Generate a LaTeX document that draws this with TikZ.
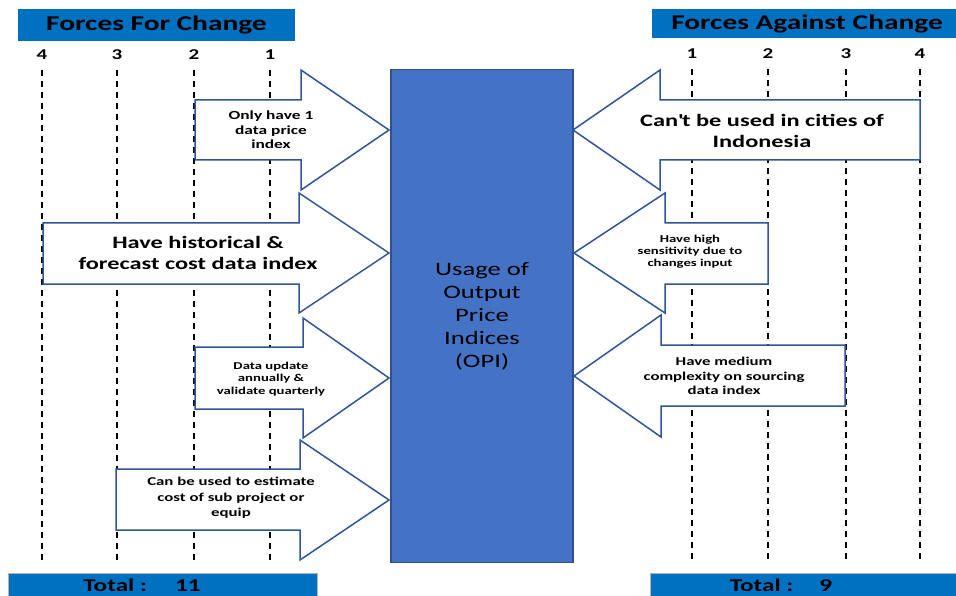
\documentclass[tikz,border=0pt]{standalone}
\usepackage{fontspec}
\setmainfont{Carlito}[FakeStretch=1.4]
\definecolor{hdrblue}{RGB}{0,112,192}
\definecolor{opiblue}{RGB}{68,114,196}
\definecolor{opiedge}{RGB}{47,82,143}
\definecolor{forceedge}{RGB}{47,85,151}
\tikzset{
  header/.style={fill=hdrblue, inner sep=0pt, font=\fontsize{21}{24}\selectfont\bfseries},
  totalbox/.style={fill=hdrblue, draw=gray!60, line width=1pt, inner sep=0pt},
  totaltext/.style={anchor=base, inner sep=0pt, font=\fontsize{18}{22}\selectfont\bfseries},
  numlabel/.style={font=\fontsize{15}{18}\selectfont\bfseries},
  dashline/.style={line width=2.2pt, dash pattern=on 6pt off 5pt},
  force/.style={draw=forceedge, fill=white, line width=1.5pt, line join=miter},
  forcetext/.style={align=center, inner sep=0pt},
}
\begin{document}
\begin{tikzpicture}[x=1pt,y=-1pt]
  \useasboundingbox (0,0) rectangle (956,596);
  \clip (0,0) rectangle (956,596);
  % headers
  \node[header, minimum width=277pt, minimum height=32pt] (hfor) at (156.5,25) {Forces For Change};
  \node[header, minimum width=310pt, minimum height=29pt] (hagainst) at (807,23.5) {Forces Against Change};
  % scale lines
  \foreach \n/\x in {4/42,3/117,2/194,1/270} {
    \node[numlabel] (l\n) at (\x,55) {\n};
    \draw[dashline] (\x,70) -- (\x,560);
  }
  \foreach \n/\x in {1/692,2/768,3/846,4/920} {
    \node[numlabel] (r\n) at (\x,54) {\n};
    \draw[dashline] (\x,69) -- (\x,560);
  }
  % forces for change
  \draw[force] (195,100) -- (301,100) -- (301,70) -- (389,130) -- (301,190) -- (301,160) -- (195,160) -- cycle;
  \draw[force] (43,223) -- (299,223) -- (299,193) -- (389,253) -- (299,313) -- (299,284) -- (43,284) -- cycle;
  \draw[force] (195,347) -- (303,347) -- (303,318) -- (389,378) -- (303,438) -- (303,409) -- (195,409) -- cycle;
  \draw[force] (116,469) -- (300,469) -- (300,440) -- (389,500) -- (300,560) -- (300,530) -- (116,530) -- cycle;
  \node[forcetext, font=\fontsize{12.4}{14.5}\selectfont\bfseries] (for1) at (271,130) {Only have 1\\data price\\index};
  \node[forcetext, font=\fontsize{17.4}{21}\selectfont\bfseries] (for2) at (198,253) {Have historical \&\\forecast cost data index};
  \node[forcetext, font=\fontsize{10.5}{12.5}\selectfont\bfseries] (for3) at (271,379) {Data update\\annually \&\\validate quarterly};
  \node[forcetext, font=\fontsize{12}{15.5}\selectfont\bfseries] (for4) at (231,498) {Can be used to estimate\\cost of sub project or\\equip};
  % forces against change
  \draw[force] (920,100) -- (660,100) -- (660,70) -- (573,130) -- (660,190) -- (660,160) -- (920,160) -- cycle;
  \draw[force] (768,223) -- (665,223) -- (665,193) -- (574,253) -- (665,313) -- (665,284) -- (768,284) -- cycle;
  \draw[force] (845,345) -- (661,345) -- (661,315) -- (574,376) -- (661,437) -- (661,406) -- (845,406) -- cycle;
  \node[forcetext, font=\fontsize{17.4}{21}\selectfont\bfseries] (against1) at (762,131) {Can\textquotesingle t be used in cities of\\Indonesia};
  \node[forcetext, font=\fontsize{10.5}{12}\selectfont\bfseries] (against2) at (690,252) {Have high\\sensitivity due to\\changes input};
  \node[forcetext, font=\fontsize{12}{14.5}\selectfont\bfseries] (against3) at (724,376) {Have medium\\complexity on sourcing\\data index};
  % centre
  \node[draw=opiedge, fill=opiblue, line width=1.5pt, minimum width=182pt, minimum height=493pt,
        align=center, font=\fontsize{19}{23}\selectfont] (opi) at (482,316) {Usage of\\Output\\Price\\Indices\\(OPI)};
  % totals
  \node[totalbox, anchor=north west, minimum width=309pt, minimum height=40pt] (tfor) at (8,573) {};
  \node[totalbox, anchor=north west, minimum width=320pt, minimum height=40pt] (tagainst) at (650,573) {};
  \node[totaltext] (tfortext) at (142,591.5) {Total :\hspace{28pt}11};
  \node[totaltext] (tagainsttext) at (781,591.5) {Total :\hspace{26pt}9};
\end{tikzpicture}
\end{document}
